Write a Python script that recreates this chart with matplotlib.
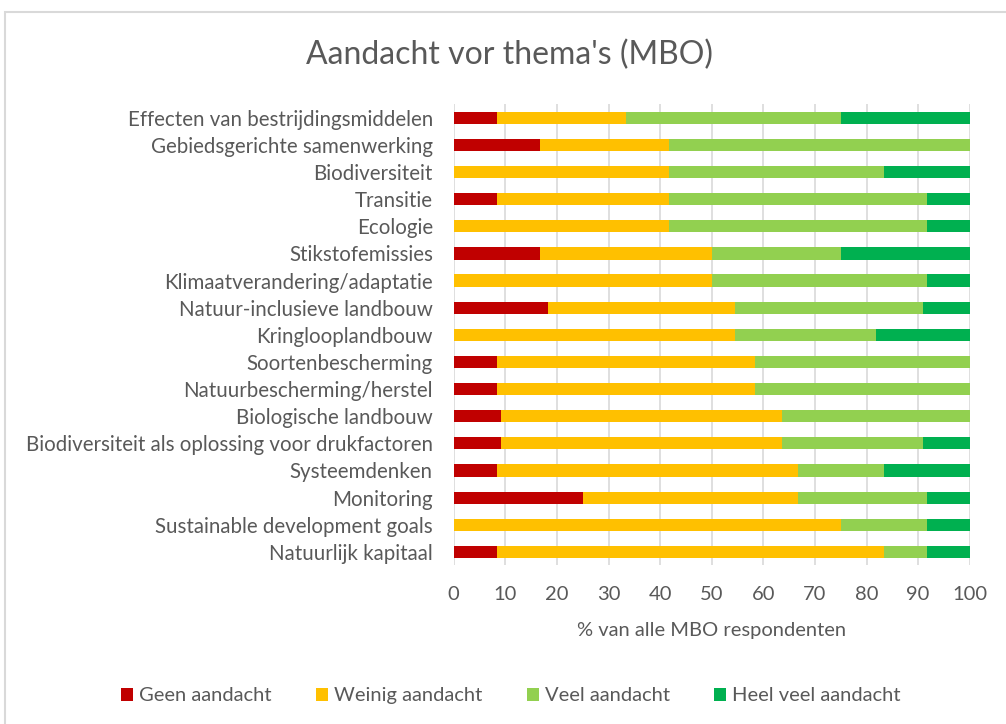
import matplotlib
matplotlib.use("Agg")
import matplotlib.pyplot as plt
from matplotlib.patches import Rectangle
import numpy as np

plt.rcParams['font.family'] = ['Lato', 'DejaVu Sans']

# Data (percentages)
themes = [
    "Effecten van bestrijdingsmiddelen",
    "Gebiedsgerichte samenwerking",
    "Biodiversiteit",
    "Transitie",
    "Ecologie",
    "Stikstofemissies",
    "Klimaatverandering/adaptatie",
    "Natuur-inclusieve landbouw",
    "Kringlooplandbouw",
    "Soortenbescherming",
    "Natuurbescherming/herstel",
    "Biologische landbouw",
    "Biodiversiteit als oplossing voor drukfactoren",
    "Systeemdenken",
    "Monitoring",
    "Sustainable development goals",
    "Natuurlijk kapitaal",
]
geen = [8.33, 16.67, 0, 8.33, 0, 16.67, 0, 18.18, 0, 8.33, 8.33, 9.09, 9.09, 8.33, 25.0, 0, 8.33]
weinig = [25.0, 25.0, 41.67, 33.33, 41.67, 33.33, 50.0, 36.36, 54.55, 50.0, 50.0, 54.55, 54.55, 58.33, 41.67, 75.0, 75.0]
veel = [41.67, 58.33, 41.67, 50.0, 50.0, 25.0, 41.67, 36.36, 27.27, 41.67, 41.67, 36.36, 27.27, 16.67, 25.0, 16.67, 8.33]
heel_veel = [25.0, 0, 16.67, 8.33, 8.33, 25.0, 8.33, 9.09, 18.18, 0, 0, 0, 9.09, 16.67, 8.33, 8.33, 8.33]

series = [
    ("Geen aandacht", geen, "#C00000"),
    ("Weinig aandacht", weinig, "#FFC000"),
    ("Veel aandacht", veel, "#92D050"),
    ("Heel veel aandacht", heel_veel, "#00B050"),
]

text_color = "#595959"
fs = 14.5

fig = plt.figure(figsize=(10.06, 7.24), dpi=100)
ax = fig.add_axes([0.451, 0.219, 0.513, 0.637])

y = np.arange(len(themes))
left = np.zeros(len(themes))
for name, vals, color in series:
    vals = np.array(vals)
    ax.barh(y, vals, left=left, height=0.45, color=color, label=name, zorder=3)
    left += vals

ax.set_ylim(len(themes) - 0.5, -0.5)
ax.set_xlim(0, 100)
ax.set_xticks(range(0, 101, 10))
ax.set_yticks(y)
ax.set_yticklabels(themes)
ax.tick_params(axis='both', length=0, labelsize=fs, colors=text_color)
ax.tick_params(axis='x', pad=15)
ax.tick_params(axis='y', pad=15, labelsize=14.8)
ax.grid(axis='x', color='#D9D9D9', linewidth=1.2, zorder=0)
for s in ax.spines.values():
    s.set_visible(False)

ax.set_xlabel("% van alle MBO respondenten", fontsize=fs, color=text_color)
ax.xaxis.set_label_coords(0.5, -0.122)
fig.text(0.506, 0.924, "Aandacht vor thema's (MBO)", fontsize=23, color=text_color,
         ha='center', va='center')

fig.legend(loc='center', bbox_to_anchor=(0.508, 0.039), ncol=4, frameon=False,
           fontsize=fs, labelcolor=text_color, handlelength=0.6, handleheight=0.6,
           handletextpad=0.3, columnspacing=2.2)

# light chart frame, cut off at the right and bottom like the screenshot
fig.patches.append(Rectangle((5 / 1006, -0.05), 1.1, 1 - 12 / 724 + 0.05,
                             transform=fig.transFigure, fill=False,
                             edgecolor='#D9D9D9', linewidth=1.5))

fig.savefig("out.png", dpi=100)
